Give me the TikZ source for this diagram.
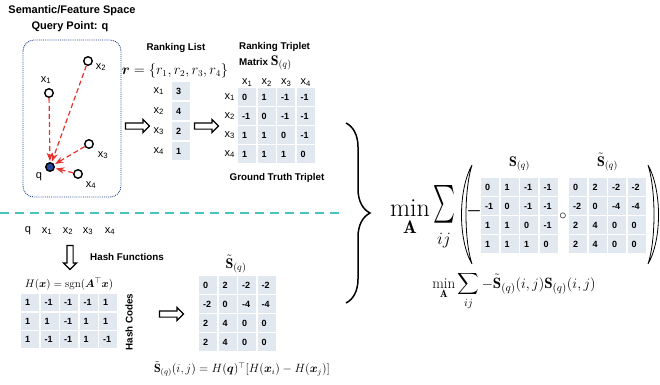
\documentclass[tikz,border=0pt]{standalone}
\usepackage{amsmath,amssymb}
\usepackage{bm}
\usepackage{fontspec}
\setsansfont{Liberation Sans}
\usetikzlibrary{arrows.meta,positioning,matrix,shapes.arrows,decorations.pathreplacing}
\definecolor{cellbg}{HTML}{E2E8F0}
\definecolor{tiered}{HTML}{E8322B}
\definecolor{sepcyan}{HTML}{45C4C4}
\definecolor{navy}{HTML}{23418F}
\definecolor{qblue}{HTML}{27489A}
\tikzset{
  ttl/.style={font=\sffamily\bfseries\fontsize{9.8}{11}\selectfont, inner sep=1pt},
  bigttl/.style={font=\sffamily\bfseries\fontsize{11}{13}\selectfont, inner sep=1pt},
  lbl/.style={font=\sffamily\fontsize{11}{12}\selectfont, inner sep=1pt},
  cell/.style={fill=cellbg, text width=10pt, inner xsep=4pt, inner ysep=0pt,
    minimum height=17.5pt, align=left, font=\sffamily\bfseries\fontsize{9}{10}\selectfont},
  cellgrid/.style={matrix of nodes, nodes={cell}, column sep=1.5pt, row sep=1.5pt,
    inner sep=0pt, anchor=north west},
  pt/.style={circle, draw=black, line width=1.4pt, fill=white, minimum size=8.5pt, inner sep=0pt},
  qpt/.style={pt, fill=qblue},
  tie/.style={->, tiered, line width=1.2pt, dash pattern=on 5pt off 3pt, shorten >=1pt},
  hollow/.style={single arrow, draw=black, fill=white, line width=1.2pt, inner sep=2.5pt,
    minimum height=24pt, single arrow head extend=3.5pt},
  bigparen/.style={draw=black, fill=white, line width=0.8pt},
  sep/.style={sepcyan, line width=1.6pt, dash pattern=on 9pt off 6pt},
  bigbrace/.style={decorate, decoration={brace, amplitude=24pt}, line width=1.5pt},
}

\begin{document}
\begin{tikzpicture}[x=1pt,y=-1pt,font=\sffamily,>=Stealth]
  \useasboundingbox (0,0) rectangle (660,384);

  % feature space
  \node[bigttl] (fstitle) at (72,11) {Semantic/Feature Space};
  \node[bigttl] (qtitle) at (70,27) {Query Point: q};
  \draw[navy, densely dotted, line width=0.9pt, rounded corners=11pt] (23,40) rectangle (121,197);
  \node[pt] (x1) at (49,93) {};
  \node[pt] (x2) at (88,61) {};
  \node[pt] (x3) at (89,144) {};
  \node[pt] (x4) at (78,174) {};
  \node[qpt] (q) at (50,167) {};
  \node[lbl] (x1l) at (46,80) {x\textsubscript{1}};
  \node[lbl] (x2l) at (101,67) {x\textsubscript{2}};
  \node[lbl] (x3l) at (103,155) {x\textsubscript{3}};
  \node[lbl] (x4l) at (91,185) {x\textsubscript{4}};
  \node[lbl] (ql) at (39,177) {q};
  \foreach \p in {x1,x2,x3,x4}
    \draw[tie] (\p) -- (q);

  \node[hollow] (arr1) at (136,126) {};

  % ranking list
  \node[ttl] (rltitle) at (176,48) {Ranking List};
  \node[font=\fontsize{13.5}{15}\selectfont] (rset) at (175,71) {$\bm r=\{r_1,r_2,r_3,r_4\}$};
  \matrix (rank) [cellgrid, row sep=2pt, nodes={minimum height=18pt}] at (172,82) {
    3\\ 4\\ 2\\ 1\\
  };
  \foreach \i in {1,...,4}
    \node[lbl, left=7pt of rank-\i-1] {x\textsubscript{\i}};

  \node[hollow] (arr2) at (205,126) {};

  % ranking triplet matrix
  \node[ttl, anchor=west] (trt1) at (238,47) {Ranking Triplet};
  \node[ttl, anchor=west] (trt2) at (238,63) {Matrix \fontsize{14}{14}\selectfont$\mathbf S_{(q)}$};
  \matrix (trip) [cellgrid] at (238,88) {
    0 & 1 & -1 & -1\\
    -1 & 0 & -1 & -1\\
    1 & 1 & 0 & -1\\
    1 & 1 & 1 & 0\\
  };
  \foreach \i in {1,...,4} {
    \node[lbl, above=0.5pt of trip-1-\i] {x\textsubscript{\i}};
    \node[lbl, left=2pt of trip-\i-1] {x\textsubscript{\i}};
  }
  \node[ttl] (gttitle) at (277,178) {Ground Truth Triplet};

  \draw[sep] (0,213) -- (340,213);

  % hashing
  \node[lbl] (hq) at (28,231) {q};
  \node[lbl] (hx1) at (47,231) {x\textsubscript{1}};
  \node[lbl] (hx2) at (68,231) {x\textsubscript{2}};
  \node[lbl] (hx3) at (88,231) {x\textsubscript{3}};
  \node[lbl] (hx4) at (110,231) {x\textsubscript{4}};
  \node[hollow, shape border rotate=270] (arr3) at (70,256) {};
  \node[ttl] (hftitle) at (127,257) {Hash Functions};
  \node[font=\fontsize{11}{13}\selectfont] (hform) at (69,284) {$H(\bm x)=\operatorname{sgn}(\bm A^{\top}\bm x)$};
  \matrix (hash) [cellgrid, nodes={minimum height=17pt}] at (21,294) {
    1 & -1 & -1 & -1 & 1\\
    1 & 1 & -1 & 1 & 1\\
    1 & -1 & -1 & 1 & -1\\
  };
  \node[ttl, rotate=90] (hctitle) at (129,322) {Hash Codes};

  \node[hollow] (arr4) at (170,314) {};

  \node[font=\fontsize{14}{16}\selectfont] (sttitle) at (236,264) {$\tilde{\mathbf S}_{(q)}$};
  \matrix (simq) [cellgrid] at (199,276) {
    0 & 2 & -2 & -2\\
    -2 & 0 & -4 & -4\\
    2 & 4 & 0 & 0\\
    2 & 4 & 0 & 0\\
  };
  \node[font=\fontsize{12}{14}\selectfont] (stform) at (242,369)
    {$\tilde{\mathbf S}_{(q)}(i,j)=H(\bm q)^{\top}[H(\bm x_i)-H(\bm x_j)]$};

  % objective
  \draw[bigbrace] (346,123) -- (346,303);
  \node[font=\fontsize{26}{30}\selectfont, anchor=base] (minA) at (410,216) {$\min\limits_{\mathbf A}$};
  \node (sumij) at (444,204) {\fontsize{26}{30}\selectfont\scalebox{0.8}[1.45]{$\sum$}};
  \node[font=\fontsize{17}{18}\selectfont] (ij) at (444,241) {$ij$};
  \draw[bigparen] (472,165) .. controls (458,190) and (458,240) .. (472,264)
    .. controls (464,240) and (464,190) .. cycle;
  \node[font=\fontsize{16}{16}\selectfont] (neg) at (474,211) {$\boldsymbol{-}$};
  \matrix (Sbig) [cellgrid] at (481,178) {
    0 & 1 & -1 & -1\\
    -1 & 0 & -1 & -1\\
    1 & 1 & 0 & -1\\
    1 & 1 & 1 & 0\\
  };
  \node[font=\fontsize{14}{16}\selectfont, above=3pt of Sbig] (Sbigt) {$\mathbf S_{(q)}$};
  \node[font=\fontsize{14}{14}\selectfont] (hadam) at (563,216) {$\circ$};
  \matrix (Stbig) [cellgrid] at (569,178) {
    0 & 2 & -2 & -2\\
    -2 & 0 & -4 & -4\\
    2 & 4 & 0 & 0\\
    2 & 4 & 0 & 0\\
  };
  \node[font=\fontsize{14}{16}\selectfont, above=3pt of Stbig] (Stbigt) {$\tilde{\mathbf S}_{(q)}$};
  \draw[bigparen] (648,165) .. controls (662,190) and (662,240) .. (648,264)
    .. controls (656,240) and (656,190) .. cycle;
  \node[font=\fontsize{15}{18}\selectfont, anchor=base] (objective) at (514,288)
    {$\displaystyle\min_{\mathbf A}\sum_{ij}-\tilde{\mathbf S}_{(q)}(i,j)\mathbf S_{(q)}(i,j)$};
\end{tikzpicture}
\end{document}
